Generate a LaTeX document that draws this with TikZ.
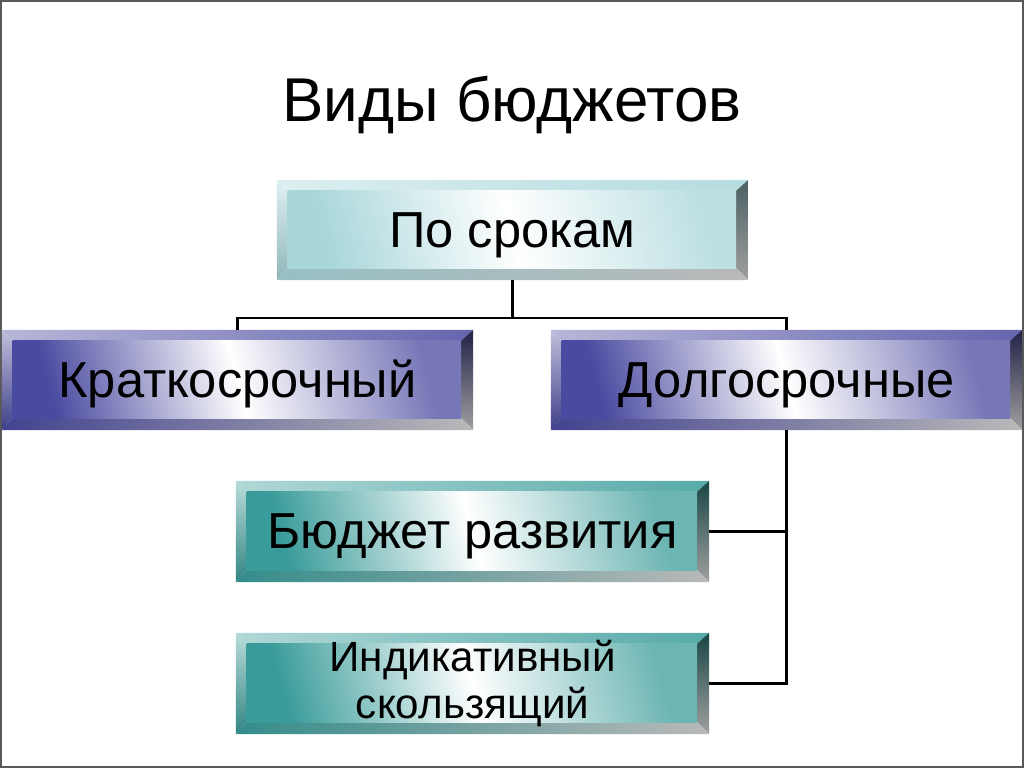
\documentclass[tikz,border=0pt]{standalone}
\usepackage{fontspec}
\setmainfont{Liberation Sans}
\usepackage{xcolor}
\usetikzlibrary{positioning}

\definecolor{skyface}{HTML}{A8D6DA}
\definecolor{navyface}{HTML}{4A4AA0}
\definecolor{tealface}{HTML}{3A9C9A}

\begin{document}
\begin{tikzpicture}[x=0.025cm, y=-0.025cm,
            bevel/.style={rectangle, inner sep=0pt, align=center, minimum width=11.78cm, minimum height=2.5cm,
                path picture={
                    \coordinate (o1) at (path picture bounding box.north west);
                    \coordinate (o2) at (path picture bounding box.north east);
                    \coordinate (o3) at (path picture bounding box.south east);
                    \coordinate (o4) at (path picture bounding box.south west);
                    \coordinate (i1) at ([shift={(0.27cm,-0.27cm)}]o1);
                    \coordinate (i2) at ([shift={(-0.3cm,-0.27cm)}]o2);
                    \coordinate (i3) at ([shift={(-0.3cm,0.3cm)}]o3);
                    \coordinate (i4) at ([shift={(0.27cm,0.3cm)}]o4);
                    \shade[left color=#1!40!white, right color=#1!85!white] (o1) -- (o2) -- (i2) -- (i1) -- cycle;
                    \shade[top color=#1!35!white, bottom color=#1!85!black] (o1) -- (i1) -- (i4) -- (o4) -- cycle;
                    \shade[top color=#1!45!black, bottom color=gray!75] (o2) -- (o3) -- (i3) -- (i2) -- cycle;
                    \shade[left color=#1!90!black, right color=gray!55] (o4) -- (i4) -- (i3) -- (o3) -- cycle;
                    \shade[top color=#1!75!white, bottom color=#1, middle color=white, shading angle=-75] (i1) rectangle (i3);
                }},
            oneline/.style={font=\fontsize{36}{40}\selectfont, text height=32pt, text depth=7.5pt},
            skybox/.style={bevel=skyface, oneline},
            navybox/.style={bevel=navyface, oneline},
            tealbox/.style={bevel=tealface, minimum width=11.83cm, minimum height=2.53cm},
            link/.style={line width=1.5pt, black}
        ]

\useasboundingbox (0,0) rectangle (1024,768);
\draw[line width=1.6pt, gray!70!black] (1,1) rectangle (1023,767);

% Title
            \node[font=\fontsize{44}{48}\selectfont, anchor=base] (title) at (512,122) {Виды бюджетов};

% Boxes
            \node[skybox] (term) at (512.5,230) {По срокам};
            \node[navybox] (short) at (237.5,380) {Краткосрочный};
            \node[navybox] (long) at (786.5,380) {Долгосрочные};
            \node[tealbox, oneline] (dev) at (472.5,531.5) {Бюджет развития};
            \node[tealbox, font=\fontsize{30}{33}\selectfont] (ind) at (472.5,683.5) {Индикативный\\скользящий};

% Connections
            \draw[link] (term.south) -- ++(0,38) -| (short.north);
            \draw[link] (term.south) -- ++(0,38) -| (long.north);
            \draw[link] (long.south) |- (dev.east);
            \draw[link] (long.south) |- (ind.east);

        \end{tikzpicture}
\end{document}
